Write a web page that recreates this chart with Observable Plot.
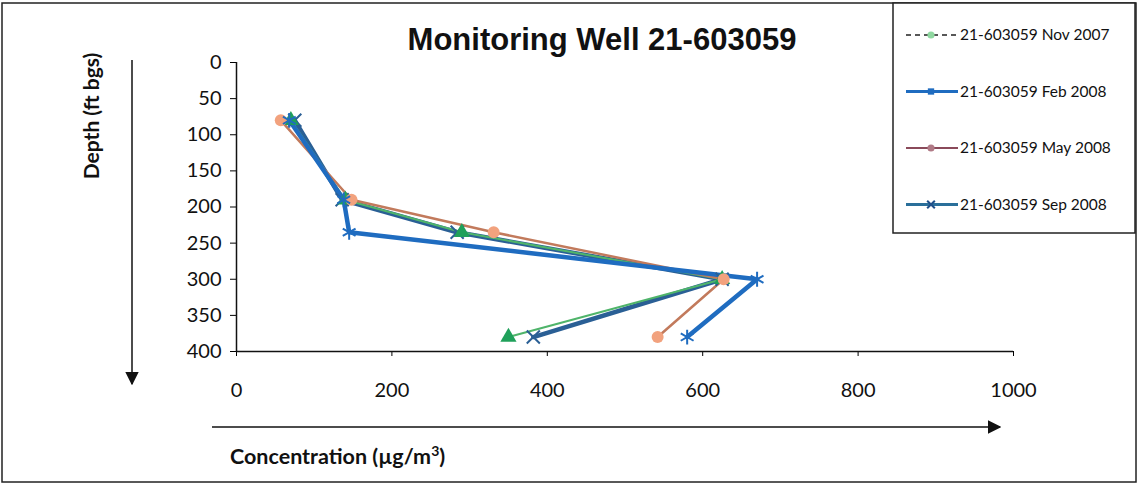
<!DOCTYPE html>
<html>
<head>
<meta charset="utf-8">
<script src="https://cdn.jsdelivr.net/npm/d3@7"></script>
<script src="https://cdn.jsdelivr.net/npm/@observablehq/plot@0.6"></script>
<style>
  html, body { margin: 0; padding: 0; background: #fff; }
  #chart svg { display: block; }
</style>
</head>
<body>
<div id="chart"></div>
<script>
// ---- data ----
const depths = [80, 190, 235, 300, 380];
const seriesNames = ["21-603059 Nov 2007", "21-603059 Feb 2008", "21-603059 May 2008", "21-603059 Sep 2008"];
const nov2007 = [70, 140, 290, 625, 350];
const feb2008 = [68, 138, 145, 670, 580];
const may2008 = [57, 148, 331, 627, 542];
const sep2008 = [75, 136, 284, 625, 382];
const xTicks = [0, 200, 400, 600, 800, 1000];
const yTicks = [0, 50, 100, 150, 200, 250, 300, 350, 400];

const valuesBySeries = [nov2007, feb2008, may2008, sep2008];
const styles = [
  {line: "#4fb46a", width: 2, symbol: "triangle", fill: "#1fa05a", r: 6},
  {line: "#1f6cc0", width: 4.5, symbol: "asterisk", fill: "#1f6cc0", r: 7},
  {line: "#c27a5c", width: 2.5, symbol: "circle", fill: "#f2a27e", r: 6},
  {line: "#2a5f95", width: 4.5, symbol: "times", fill: "#2a5f95", r: 6}
];
const rows = (vals) => vals.map((v, i) => ({conc: v, depth: depths[i]}));

const font = "Lato, 'Open Sans', sans-serif";
const W = 1138, H = 485;

const marks = [];
// draw order: Sep, Nov, May, Feb
[3, 0, 2, 1].forEach(k => {
  const s = styles[k];
  marks.push(Plot.line(rows(valuesBySeries[k]), {x: "conc", y: "depth", stroke: s.line, strokeWidth: s.width}));
});
[3, 0, 2, 1].forEach(k => {
  const s = styles[k];
  const filled = s.symbol === "circle" || s.symbol === "triangle";
  marks.push(Plot.dot(rows(valuesBySeries[k]), {
    x: "conc", y: "depth", symbol: s.symbol, r: s.r,
    fill: filled ? s.fill : "none",
    stroke: filled ? "none" : s.fill, strokeWidth: filled ? 0 : 2
  }));
});

const plot = Plot.plot({
  width: W,
  height: H,
  marginLeft: 236,
  marginRight: 125,
  marginTop: 62,
  marginBottom: 134,
  style: {fontFamily: font, background: "#fff"},
  x: {domain: [0, 1000], ticks: xTicks, label: null},
  y: {domain: [0, 400], reverse: true, ticks: yTicks, label: null},
  marks: [
    Plot.axisY({ticks: yTicks, tickSize: 6, tickPadding: 9, fontSize: 20, fill: "#111", label: null, tickFormat: d => String(d)}),
    Plot.axisX({ticks: xTicks, tickSize: 5, tickPadding: 26, fontSize: 20, fill: "#111", label: null, tickFormat: d => String(d)}),
    Plot.ruleX([0], {stroke: "#111", strokeWidth: 1.5}),
    Plot.ruleY([400], {stroke: "#111", strokeWidth: 1.5}),
    ...marks
  ]
});
document.getElementById("chart").appendChild(plot);

const svg = d3.select(plot);
// outer frame
svg.append("rect").attr("x", 2).attr("y", 3).attr("width", W - 4).attr("height", H - 6)
  .attr("fill", "none").attr("stroke", "#222").attr("stroke-width", 1.5);

// title
svg.append("text").attr("x", 602).attr("y", 50).attr("text-anchor", "middle")
  .attr("font-family", "'Liberation Sans Narrow', 'Arial Narrow', sans-serif")
  .attr("font-weight", "bold").attr("font-size", 31).attr("fill", "#111")
  .text("Monitoring Well 21-603059");

// y-axis label + downward arrow
svg.append("text").attr("transform", "translate(99,116) rotate(-90)")
  .attr("text-anchor", "middle").attr("font-family", font).attr("font-weight", "bold")
  .attr("font-size", 21).attr("fill", "#111").text("Depth (ft bgs)");
const defs = svg.append("defs");
defs.append("marker").attr("id", "ah").attr("viewBox", "0 0 10 10").attr("refX", 9).attr("refY", 5)
  .attr("markerWidth", 9).attr("markerHeight", 9).attr("orient", "auto-start-reverse")
  .append("path").attr("d", "M0,0 L10,5 L0,10 z").attr("fill", "#111");
svg.append("line").attr("x1", 132).attr("y1", 60).attr("x2", 132).attr("y2", 384)
  .attr("stroke", "#111").attr("stroke-width", 1.5).attr("marker-end", "url(#ah)");

// x-axis label + right arrow
svg.append("line").attr("x1", 212).attr("y1", 427).attr("x2", 1000).attr("y2", 427)
  .attr("stroke", "#111").attr("stroke-width", 1.5).attr("marker-end", "url(#ah)");
const xl = svg.append("text").attr("x", 230).attr("y", 464).attr("text-anchor", "start").attr("font-family", font)
  .attr("font-weight", "bold").attr("font-size", 21.5).attr("fill", "#111");
xl.append("tspan").text("Concentration (µg/m");
xl.append("tspan").attr("dy", -8).attr("font-size", 14).text("3");
xl.append("tspan").attr("dy", 8).text(")");

// legend
const lg = svg.append("g");
lg.append("rect").attr("x", 893).attr("y", 3).attr("width", 242).attr("height", 230)
  .attr("fill", "#fff").attr("stroke", "#222").attr("stroke-width", 1.5);
const legendSymbols = {triangle: d3.symbolTriangle, asterisk: d3.symbolAsterisk, circle: d3.symbolCircle, times: d3.symbolTimes, square: d3.symbolSquare};
const legendStyles = [
  {line: "#222", dash: "5,4", width: 1.5, symbol: "circle", fill: "#8fd8a0", filled: true},
  {line: "#1f6cc0", dash: null, width: 3, symbol: "square", fill: "#1f6cc0", filled: true},
  {line: "#8a4a5a", dash: null, width: 2, symbol: "circle", fill: "#b07a86", filled: true},
  {line: "#2a6f9a", dash: null, width: 3, symbol: "times", fill: "#1f4f8a", filled: false}
];
seriesNames.forEach((name, i) => {
  const y = 35 + i * 56.5;
  const s = legendStyles[i];
  lg.append("line").attr("x1", 906).attr("x2", 958).attr("y1", y).attr("y2", y)
    .attr("stroke", s.line).attr("stroke-width", s.width).attr("stroke-dasharray", s.dash);
  lg.append("path").attr("transform", `translate(931,${y})`)
    .attr("d", d3.symbol(legendSymbols[s.symbol], 40)())
    .attr("fill", s.filled ? s.fill : "none").attr("stroke", s.filled ? "none" : s.fill).attr("stroke-width", 2);
  lg.append("text").attr("x", 960).attr("y", y + 5).attr("text-anchor", "start").attr("font-family", font)
    .attr("font-size", 15.5).attr("fill", "#111").text(name);
});
</script>
</body>
</html>
